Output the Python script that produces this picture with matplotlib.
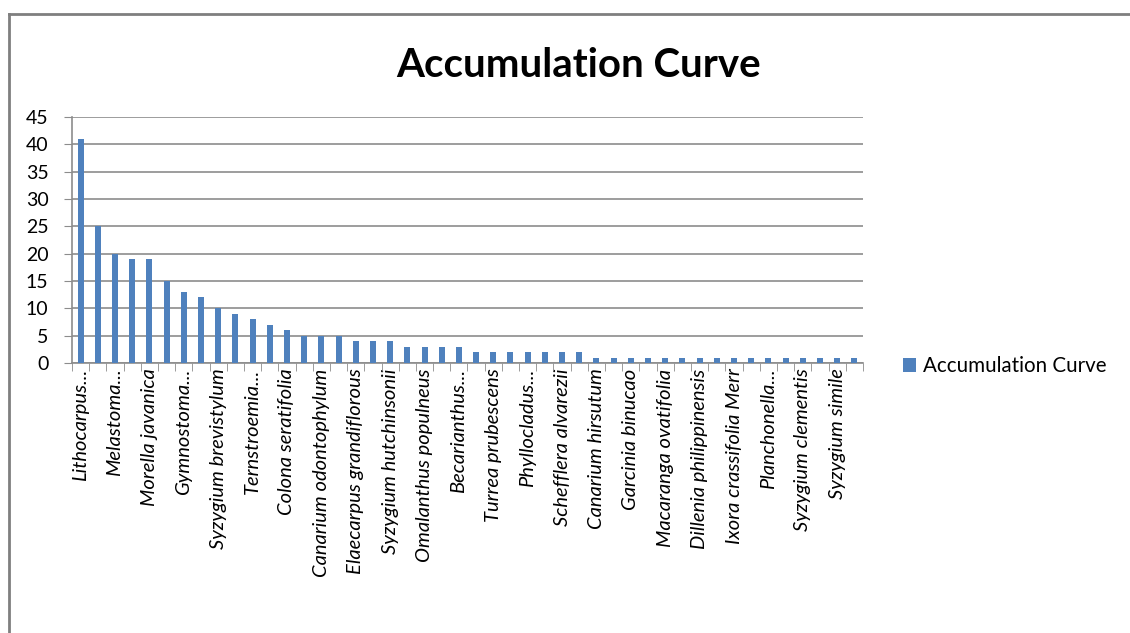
import numpy as np
import matplotlib
matplotlib.use("Agg")
import matplotlib.pyplot as plt
from matplotlib.lines import Line2D

plt.rcParams['font.family'] = ['Lato', 'DejaVu Sans']

# species counts, sorted high to low (46 bars, every other one labelled)
counts = [41, 25, 20, 19, 19, 15, 13, 12, 10, 9, 8, 7, 6, 5, 5, 5,
          4, 4, 4, 3, 3, 3, 3,
          2, 2, 2, 2, 2, 2, 2,
          1, 1, 1, 1, 1, 1, 1, 1, 1, 1, 1, 1, 1, 1, 1, 1]

# labels shown on the axis (only every second category gets one)
shown_labels = ["Lithocarpus...", "Melastoma...", "Morella javanica", "Gymnostoma...",
                "Syzygium brevistylum", "Ternstroemia...", "Colona seratifolia",
                "Canarium odontophylum", "Elaecarpus grandiflorous", "Syzygium hutchinsonii",
                "Omalanthus populneus", "Becarianthus...", "Turrea prubescens",
                "Phyllocladus...", "Schefflera alvarezii", "Canarium hirsutum",
                "Garcinia binucao", "Macaranga ovatifolia", "Dillenia philippinensis",
                "Ixora crassifolia Merr", "Planchonella...", "Syzygium clementis",
                "Syzygium simile"]

series_name = "Accumulation Curve"
y_ticks = [0, 5, 10, 15, 20, 25, 30, 35, 40, 45]

bar_color = "#4F81BD"
grid_color = "#8C8C8C"

fig = plt.figure(figsize=(11.3, 6.33), dpi=100)
ax = fig.add_axes([72 / 1130, 1 - 363 / 633, 791 / 1130, 246 / 633])

x = np.arange(len(counts))
bars = ax.bar(x, counts, width=0.35, color=bar_color, zorder=3, label=series_name)

ax.set_xlim(-0.5, len(counts) - 0.5)
ax.set_ylim(0, 45)
ax.set_yticks(y_ticks)
ax.yaxis.grid(True, color=grid_color, linewidth=1.2, zorder=0)
ax.tick_params(axis='y', length=6, color=grid_color, labelsize=14, pad=11)

# labels on every other bar, tick marks on category boundaries
ax.set_xticks(x[::2])
ax.set_xticklabels(shown_labels, rotation=90, style='italic', fontsize=14.5,
                   ha='center', va='top')
ax.tick_params(axis='x', which='major', length=0, pad=4)
ax.set_xticks(np.arange(-0.5, len(counts), 1.0), minor=True)
ax.tick_params(axis='x', which='minor', length=6, color=grid_color)

for s in ['top', 'right']:
    ax.spines[s].set_visible(False)
for s in ['left', 'bottom']:
    ax.spines[s].set_color(grid_color)
    ax.spines[s].set_linewidth(1.2)

fig.text(0.512, 1 - 77 / 633, "Accumulation Curve", ha='center', va='baseline',
         fontsize=29, fontweight='bold')

fig.legend(handles=[bars], labels=[series_name], loc='center left',
           bbox_to_anchor=(903 / 1130, 1 - 366 / 633), frameon=False,
           borderpad=0, borderaxespad=0,
           fontsize=14.8, handlelength=0.65, handleheight=0.65, handletextpad=0.3)

# outer chart frame (top and left edges visible in the crop)
fig.add_artist(Line2D([9 / 1130, 9 / 1130], [0, 1 - 14 / 633],
                      transform=fig.transFigure, color="#7F7F7F", linewidth=2))
fig.add_artist(Line2D([9 / 1130, 1], [1 - 14 / 633, 1 - 14 / 633],
                      transform=fig.transFigure, color="#7F7F7F", linewidth=2))

fig.savefig("out.png", dpi=100)
